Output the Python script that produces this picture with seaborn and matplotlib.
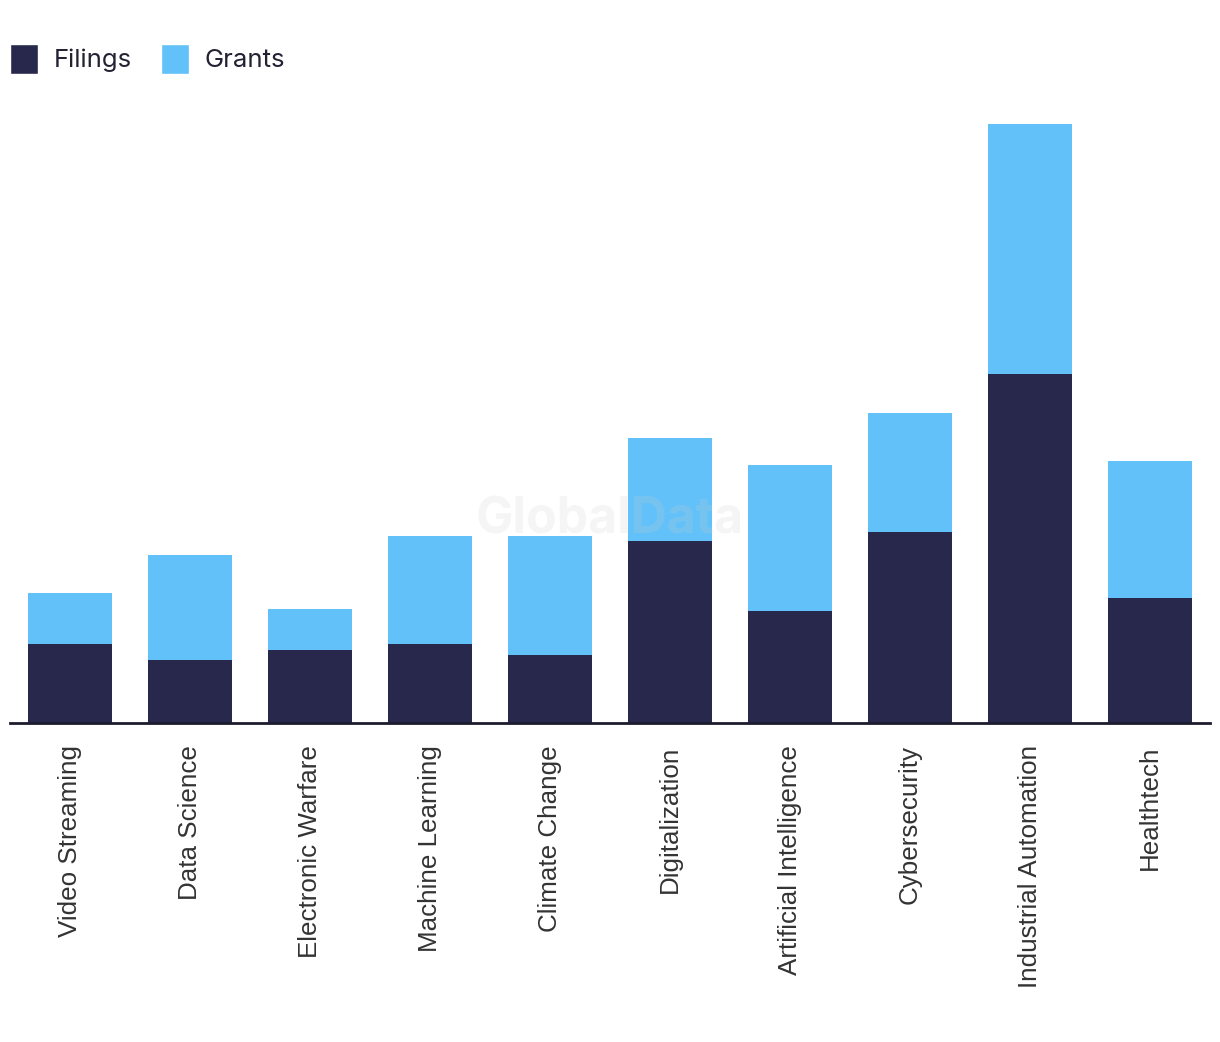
import matplotlib
matplotlib.use("Agg")
import matplotlib.pyplot as plt
import seaborn as sns
import pandas as pd
from matplotlib.patches import Patch

categories = ["Video Streaming", "Data Science", "Electronic Warfare", "Machine Learning",
              "Climate Change", "Digitalization", "Artificial Intelligence", "Cybersecurity",
              "Industrial Automation", "Healthtech"]
filings = [79, 63, 73, 79, 68, 182, 112, 191, 349, 125]
grants = [51, 105, 41, 108, 119, 103, 146, 119, 250, 137]

DARK = "#27284b"
LIGHT = "#62c1f9"

sns.set_theme(style="white")
plt.rcParams["font.family"] = ["Liberation Sans", "DejaVu Sans"]

df = pd.DataFrame({"category": categories, "filings": filings, "grants": grants})
df["total"] = df["filings"] + df["grants"]

fig = plt.figure(figsize=(12.2, 10.42), dpi=100)
ax = fig.add_axes([10 / 1220, 319 / 1042, 1200 / 1220, 623 / 1042])

# stacked look: total in light blue, filings drawn over it
sns.barplot(data=df, x="category", y="total", color=LIGHT, width=0.7,
            saturation=1, linewidth=0, ax=ax, zorder=2)
sns.barplot(data=df, x="category", y="filings", color=DARK, width=0.7,
            saturation=1, linewidth=0, ax=ax, zorder=3)

ax.set_xlim(-0.5, len(categories) - 0.5)
ax.set_ylim(0, 623)
ax.set_xlabel("")
ax.set_ylabel("")
ax.set_yticks([])
for side in ["top", "right", "left"]:
    ax.spines[side].set_visible(False)
ax.spines["bottom"].set_color("#1c1c2e")
ax.spines["bottom"].set_linewidth(2)
ax.spines["bottom"].set_zorder(4)
ax.tick_params(axis="x", length=0, pad=16, labelsize=18.7, labelcolor="#333333")
plt.setp(ax.get_xticklabels(), rotation=90, ha="center", va="top")

handles = [Patch(facecolor=DARK, label="Filings"), Patch(facecolor=LIGHT, label="Grants")]
fig.legend(handles=handles, loc="upper left", bbox_to_anchor=(10 / 1220, 1 - 44 / 1042),
           ncol=2, frameon=False, handlelength=1.09, handleheight=1.41,
           handletextpad=0.62, columnspacing=1.12, borderpad=0, borderaxespad=0,
           prop={"family": "Inter", "size": 18.5}, labelcolor="#222233")

fig.text(0.5, 1 - 520 / 1042, "GlobalData", ha="center", va="center",
         fontsize=36, fontweight="bold", family="Inter",
         color="#d0d0d0", alpha=0.2, zorder=10)

fig.savefig("out.png", dpi=100, facecolor="white")
